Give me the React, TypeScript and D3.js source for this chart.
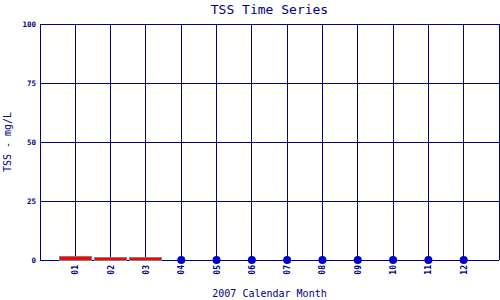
import React from "react";
import * as d3 from "d3";

const months = ["01", "02", "03", "04", "05", "06", "07", "08", "09", "10", "11", "12"];
const barValues = [1.3, 0.9, 0.9];
const pointValues = [null, null, null, 0, 0, 0, 0, 0, 0, 0, 0, 0];
const yTicks = [0, 25, 50, 75, 100];

const W = 500, H = 300;
const L = 40, R = 499, T = 24, B = 260;
const NAVY = "#000080";
const FONT = "'DejaVu Sans Mono', monospace";

export default function App() {
  const x = d3.scaleLinear().domain([0, 13]).range([L, R]);
  const y = d3.scaleLinear().domain([0, 100]).range([B, T]);
  const bw = 32;
  const gx = d3.range(1, 14);
  return (
    <svg width={W} height={H} style={{ position: "absolute", left: 0, top: 0 }} shapeRendering="crispEdges">
      <rect x={0} y={0} width={W} height={H} fill="#fff" />
      {yTicks.map((t) => (
        <line key={"h" + t} x1={L} x2={R} y1={y(t)} y2={y(t)} stroke={NAVY} strokeWidth={1} />
      ))}
      {gx.map((i) => (
        <line key={"v" + i} x1={x(i)} x2={x(i)} y1={T} y2={B} stroke={NAVY} strokeWidth={1} />
      ))}
      <line x1={L} x2={L} y1={T} y2={B} stroke={NAVY} />
      {barValues.map((v, i) => (
        <rect key={"b" + i} x={x(i + 1) - bw / 2} y={y(v)} width={bw} height={B - y(v)} fill="#ff0000" stroke="#808080" strokeWidth={1} />
      ))}
      {pointValues.map((v, i) =>
        v === null ? null : (
          <circle key={"p" + i} cx={x(i + 1)} cy={y(v)} r={4} fill="#0000cc" shapeRendering="auto" />
        )
      )}
      {yTicks.map((t) => (
        <text key={"yt" + t} x={36} y={y(t) + 3} textAnchor="end" fontFamily={FONT} fontSize={7.5} fontWeight="bold" fill={NAVY}>
          {t}
        </text>
      ))}
      {months.map((m, i) => (
        <text key={"xt" + m} transform={`translate(${x(i + 1) + 3},${B + 5}) rotate(-90)`} textAnchor="end" fontFamily={FONT} fontSize={8} fontWeight="bold" fill={NAVY}>
          {m}
        </text>
      ))}
      <text x={(L + R) / 2} y={14} textAnchor="middle" fontFamily={FONT} fontSize={13} fill={NAVY}>
        TSS Time Series
      </text>
      <text x={(L + R) / 2} y={297} textAnchor="middle" fontFamily={FONT} fontSize={10} fill={NAVY}>
        2007 Calendar Month
      </text>
      <text transform={`translate(11,${(T + B) / 2}) rotate(-90)`} textAnchor="middle" fontFamily={FONT} fontSize={10} fill={NAVY}>
        TSS - mg/L
      </text>
    </svg>
  );
}
